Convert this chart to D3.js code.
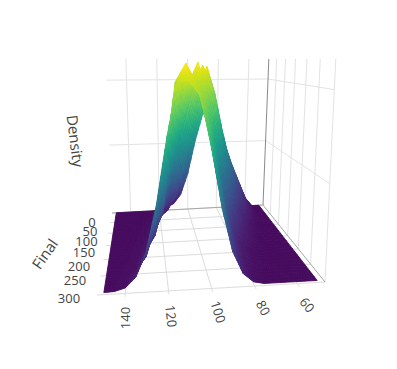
<!DOCTYPE html>
<html><head><meta charset="utf-8">
<script src="https://cdn.jsdelivr.net/npm/d3@7"></script>
<style>html,body{margin:0;background:#fff}svg{display:block;font-family:"Open Sans",sans-serif}</style>
</head><body><svg id="c" width="397" height="369"></svg>
<script>
// --- data ---
const xValues = [50,55,60,65,70,75,80,85,90,95,100,105,110,115,120,125,130,135,140,145,150];
const finalValues = [0,50,100,150,200,250,295];
const density0   = [0,0,6,18,30,44,57,66,64,46,24,10,4,2,0.5,0,0,0,0,0,0];
const density50  = [0,0,3,10,20,36,56,80,97,82,55,32,15,6,2,0.5,0,0,0,0,0];
const density100 = [0,0,0,3,8,17,36,60,88,98,88,70,47,24,9,3,0.6,0,0,0,0];
const density150 = [0,0,0,0,3,8,16,31,55,84,100,88,70,42,16,5.6,1.5,0.3,0,0,0];
const density200 = [0,0,0,0,0.3,2,6,16,36,65,88,92,90,64,29,11,3.3,0.8,0.1,0,0];
const density250 = [0,0,0,0,0,0.6,2.6,8.9,24,49,74,90,100,91,52,24,8,2,0.4,0.1,0];
const density295 = [0,0,0,0,0,0,1,5,15,34,61,85,92,93,68,38,17,6,1.5,0.2,0];
const densityRows = [density0,density50,density100,density150,density200,density250,density295];
const xTicks = [140,120,100,80,60];
const finalTicks = [0,50,100,150,200,250,300];
const densityGrid = [45,88];

// --- scales: axes-box domain to unit cube ---
const uScale = d3.scaleLinear().domain([153,47]).range([0,1]);
const vScale = d3.scaleLinear().domain([0,300]).range([0,1]);
const wScale = d3.scaleLinear().domain([0,102]).range([0,1]);
const colour = d3.scaleSequential(d3.interpolateViridis).domain([-3,100]);

function homography(p00,p10,p11,p01){
  const [x0,y0]=p00,[x1,y1]=p10,[x2,y2]=p11,[x3,y3]=p01;
  const dx1=x1-x2,dx2=x3-x2,sx=x0-x1+x2-x3,dy1=y1-y2,dy2=y3-y2,sy=y0-y1+y2-y3;
  const den=dx1*dy2-dx2*dy1;
  const g=(sx*dy2-dx2*sy)/den,h=(dx1*sy-sx*dy1)/den;
  const a=x1-x0+g*x1,b=x3-x0+h*x3,d=y1-y0+g*y1,e=y3-y0+h*y3;
  return (u,v)=>{const q=g*u+h*v+1;return [(a*u+b*v+x0)/q,(d*u+e*v+y0)/q];};
}
const floorH = homography([112,213],[263,205],[325,282],[97,295]);
const topY = 59, lean = 0.08, leanCentre = 190;
function project(x,f,z){
  const a=floorH(uScale(x),vScale(f)),w=wScale(z);
  return [a[0]+(a[0]-leanCentre)*lean*w, a[1]+(topY-a[1])*w];
}
const svg=d3.select("#c");
const line=d3.line();
const gridG=svg.append("g").attr("fill","none");
function seg(g,pts,col,w){g.append("path").attr("d",line(pts)).attr("stroke",col||"#e3e3e3").attr("stroke-width",w||1);}
xTicks.forEach(x=>seg(gridG,[project(x,0,0),project(x,308,0)],"#dcdcdc"));
finalTicks.forEach(f=>seg(gridG,[project(153,f,0),project(47,f,0)],"#dcdcdc"));
xTicks.forEach(x=>seg(gridG,[project(x,0,0),project(x,0,102)]));
finalTicks.forEach(f=>{ if(f>0) seg(gridG,[project(47,f,0),project(47,f,102)]); });
densityGrid.forEach(z=>{
  seg(gridG,[project(153,0,z),project(47,0,z)]);
  seg(gridG,[project(47,0,z),project(47,300,z)]);
});
seg(gridG,[project(47,0,0),project(47,0,102)],"#8a8a8a");
seg(gridG,[project(153,0,0),project(47,0,0)],"#a8a8a8");
seg(gridG,[project(47,0,0),project(47,300,0)],"#a8a8a8");

const surf=svg.append("g");
const SUB=5;
const facets=[];
for(let r=0;r<finalValues.length-1;r++){
  for(let c=0;c<xValues.length-1;c++){
    const z00=densityRows[r][c],z10=densityRows[r][c+1],z01=densityRows[r+1][c],z11=densityRows[r+1][c+1];
    for(let i=0;i<SUB;i++)for(let j=0;j<SUB;j++){
      const at=(a,b)=>{const fx=(i+a)/SUB,ft=(j+b)/SUB;
        const x=xValues[c]+(xValues[c+1]-xValues[c])*fx;
        const f=finalValues[r]+(finalValues[r+1]-finalValues[r])*ft;
        const z=z00*(1-fx)*(1-ft)+z10*fx*(1-ft)+z01*(1-fx)*ft+z11*fx*ft;
        return {p:project(x,f,z),z};};
      const q=[at(0,0),at(1,0),at(1,1),at(0,1)];
      facets.push({d:line(q.map(o=>o.p))+"Z",z:d3.mean(q,o=>o.z)});
    }
  }
}
surf.selectAll("path").data(facets).join("path")
  .attr("d",o=>o.d).attr("fill",o=>colour(o.z)).attr("stroke",o=>colour(o.z)).attr("stroke-width",0.9).attr("stroke-linejoin","round");

const ink="#444";
const txt=svg.append("g").attr("fill",ink).attr("text-anchor","middle").attr("font-size",13);
const xLabelPos={140:[125,318,-90],120:[171,316,84],100:[218,312,72],80:[263,308,62],60:[307,305,50]};
xTicks.forEach(x=>{const [a,b,r]=xLabelPos[x];
  txt.append("text").attr("transform",`translate(${a},${b}) rotate(${r})`).attr("dy","0.35em").text(x);});
const fLabelPos={0:[92,222],50:[90,231],100:[86.5,241],150:[84,252],200:[79,266],250:[75,280],300:[69,298]};
finalTicks.forEach(f=>{const [a,b]=fLabelPos[f];
  txt.append("text").attr("x",a).attr("y",b).attr("dy","0.35em").text(f);});
svg.append("text").attr("transform","translate(75,141) rotate(83)").attr("text-anchor","middle").attr("dy","0.35em").attr("font-size",15).attr("fill",ink).text("Density");
svg.append("text").attr("transform","translate(45,254) rotate(-55)").attr("text-anchor","middle").attr("dy","0.35em").attr("font-size",15).attr("fill",ink).text("Final");
</script></body></html>
